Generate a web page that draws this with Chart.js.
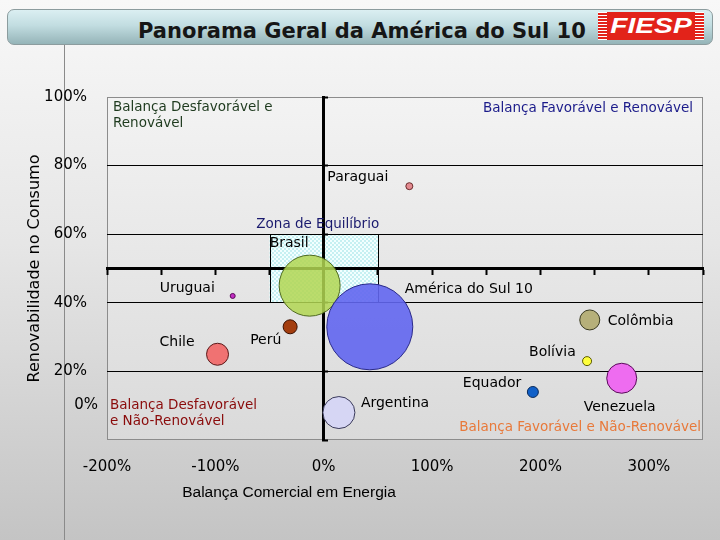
<!DOCTYPE html>
<html>
<head>
<meta charset="utf-8">
<script src="https://cdn.jsdelivr.net/npm/chart.js@4"></script>
<style>
  html, body { margin:0; padding:0; }
  body { width:720px; height:540px; overflow:hidden; position:relative;
         background: linear-gradient(to bottom, #f8f8f8 0%, #e6e6e6 45%, #c4c4c4 100%); }
  #vline { position:absolute; left:64px; top:45px; width:1px; height:495px; background:#8a8a8a; }
  #bar { position:absolute; left:7px; top:9px; width:704px; height:34px; border:1px solid #8c9c9e;
         border-radius:7px; background: linear-gradient(to bottom, #dbeff2 0%, #c2dde1 45%, #95b4b8 100%); }
  #title { position:absolute; left:138px; top:19px; font-family:"DejaVu Sans"; font-weight:bold; font-size:21px;
           line-height:24px; color:#161616; white-space:nowrap; }
  #logo { position:absolute; left:598px; top:12px; width:106px; height:28px; background:#e2231a; overflow:hidden; }
  #logo .s { position:absolute; top:0; width:9px; height:28px;
             background: repeating-linear-gradient(to bottom, #ffffff 0px, #ffffff 1px, transparent 1px, transparent 3px); }
  #logo .t { position:absolute; left:0; top:0; width:106px; height:28px; text-align:center; line-height:28px;
             font-family:"Liberation Sans"; font-weight:bold; font-style:italic; font-size:22px; color:#fff;
             transform:scaleX(1.28); }
  #c { position:absolute; left:0; top:0; }
</style>
</head>
<body>
<div id="vline"></div>
<div id="bar"></div>
<div id="title">Panorama Geral da América do Sul 10</div>
<div id="logo"><div class="s" style="left:0"></div><div class="s" style="right:0"></div><div class="t">FIESP</div></div>
<canvas id="c" width="720" height="540"></canvas>
<script>
// ---- data ----
const countries = ['Paraguai','Brasil','América do Sul 10','Uruguai','Chile','Perú','Argentina','Colômbia','Bolívia','Equador','Venezuela'];
const balancaComercial = [79, -13, 42.5, -84, -98, -31, 14, 245.5, 243, 193, 275];   // %
const renovabilidade  = [74, 45, 33, 42, 25, 33, 8, 35, 23, 14, 18];                 // %
const tamanho         = [3.5, 30.5, 43, 2.5, 11, 7, 16, 10, 4.5, 5.5, 15];
const xTickValues = [-200, -100, 0, 100, 200, 300];
const yTickValues = [0, 20, 40, 60, 80, 100];
const quadrantLabels = {
  desfRen: ['Balança Desfavorável e', 'Renovável'],
  favRen: 'Balança Favorável e Renovável',
  desfNao: ['Balança Desfavorável', 'e Não-Renovável'],
  favNao: 'Balança Favorável e Não-Renovável',
  zona: 'Zona de Equilíbrio'
};
const xTitle = 'Balança Comercial em Energia';
const yTitle = 'Renovabilidade no Consumo';

// ---- styles ----
const fills = ['#e38a90','rgba(178,214,82,0.85)','rgba(98,102,240,0.9)','#c22ec2','#f07272','#a33d0e',
               '#d6d6f4','#b6b07a','#ffff3c','#1060c8','#ee6cf0'];
const borders = ['#6a2a2a','#4f6a20','#2a2a8a','#5a0a5a','#5a1a1a','#3a1000','#3a3a5a','#3a3a20','#5a5a00','#0a2a5a','#5a0a5a'];
const labelOffsets = [[-82,-9],[-40,-42],[35,-37],[-73,-8],[-58,-12],[-40,14],[22,-9],[18,1],[-58,-9],[-70,-9],[-38,29]];

const points = countries.map((c,i)=>({x: balancaComercial[i], y: renovabilidade[i], r: tamanho[i]}));

function makePattern(ctx){
  const p = document.createElement('canvas'); p.width = 4; p.height = 4;
  const g = p.getContext('2d');
  g.fillStyle = '#f2ffff'; g.fillRect(0,0,4,4);
  g.fillStyle = '#c6f0f2'; g.fillRect(0,0,2,2); g.fillRect(2,2,2,2);
  return ctx.createPattern(p,'repeat');
}

const zeroFit = s => { s.width = s.isHorizontal() ? s.width : 0; s.height = s.isHorizontal() ? 0 : s.height;
                       s.paddingLeft = 0; s.paddingRight = 0; s.paddingTop = 0; s.paddingBottom = 0; };

const decor = {
  id: 'decor',
  beforeDraw(chart){
    const {ctx, chartArea: ca, scales} = chart;
    ctx.save();
    const gr = ctx.createLinearGradient(0, ca.top, 0, ca.bottom);
    gr.addColorStop(0, '#f3f3f3'); gr.addColorStop(1, '#dadada');
    ctx.fillStyle = gr;
    ctx.fillRect(ca.left, ca.top, ca.right-ca.left, ca.bottom-ca.top);
    // zona de equilibrio
    const x1 = scales.x.getPixelForValue(-50), x2 = scales.x.getPixelForValue(50);
    const y1 = scales.y.getPixelForValue(60), y2 = scales.y.getPixelForValue(40);
    ctx.fillStyle = makePattern(ctx);
    ctx.fillRect(x1, y1, x2-x1, y2-y1);
    ctx.strokeStyle = '#000'; ctx.lineWidth = 1;
    ctx.beginPath();
    ctx.moveTo(Math.round(x1)+0.5, y1); ctx.lineTo(Math.round(x1)+0.5, y2);
    ctx.moveTo(Math.round(x2)+0.5, y1); ctx.lineTo(Math.round(x2)+0.5, y2);
    ctx.stroke();
    ctx.strokeStyle = '#8c8c8c';
    ctx.strokeRect(ca.left+0.5, ca.top+0.5, ca.right-ca.left-1, ca.bottom-ca.top-1);
    ctx.restore();
  },
  afterDraw(chart){
    const {ctx, chartArea: ca, scales} = chart;
    ctx.save();
    ctx.textBaseline = 'middle';
    ctx.font = '13.5px "DejaVu Sans"';
    ctx.textAlign = 'left';
    ctx.fillStyle = '#1e3a1e';
    ctx.fillText(quadrantLabels.desfRen[0], ca.left+6, ca.top+10);
    ctx.fillText(quadrantLabels.desfRen[1], ca.left+6, ca.top+26);
    ctx.fillStyle = '#8a0b0b';
    ctx.fillText(quadrantLabels.desfNao[0], ca.left+3, ca.bottom-35);
    ctx.fillText(quadrantLabels.desfNao[1], ca.left+3, ca.bottom-19);
    ctx.textAlign = 'right';
    ctx.fillStyle = '#1b1b8a';
    ctx.fillText(quadrantLabels.favRen, ca.right-10, ca.top+11);
    ctx.fillStyle = '#e8793a';
    ctx.fillText(quadrantLabels.favNao, ca.right-2, ca.bottom-13);
    ctx.textAlign = 'center';
    ctx.fillStyle = '#1a1a6e';
    ctx.fillText(quadrantLabels.zona, scales.x.getPixelForValue(0)-6, scales.y.getPixelForValue(60)-10);
    // 0% tick label (offset as in the original slide)
    ctx.font = '15px "DejaVu Sans"';
    ctx.fillStyle = '#000';
    ctx.textAlign = 'right';
    ctx.fillText('0%', ca.left-9, scales.y.getPixelForValue(0)-35);
    // x title
    ctx.font = '15.5px "Liberation Sans"';
    ctx.textAlign = 'center';
    ctx.fillText(xTitle, ca.left+182, ca.bottom+53);
    // country labels
    ctx.font = '14px "DejaVu Sans"';
    ctx.textAlign = 'left';
    const meta = chart.getDatasetMeta(0);
    meta.data.forEach((el,i)=>{
      ctx.fillText(countries[i], el.x + labelOffsets[i][0], el.y + labelOffsets[i][1]);
    });
    ctx.restore();
  }
};

new Chart(document.getElementById('c'), {
  type: 'bubble',
  data: { datasets: [{
    data: points,
    backgroundColor: fills,
    borderColor: borders,
    borderWidth: 1,
    xAxisID: 'x', yAxisID: 'y'
  }]},
  options: {
    responsive: false,
    devicePixelRatio: 1,
    animation: false,
    layout: { autoPadding: false, padding: { top: 97, right: 17, left: 0, bottom: 0 } },
    plugins: { legend: { display: false }, tooltip: { enabled: false } },
    scales: {
      x: {
        type: 'linear', position: 'bottom', min: -200, max: 350,
        afterFit: s => { s.height = 100; s.paddingLeft = 0; s.paddingRight = 0; },
        afterBuildTicks: s => { s.ticks = xTickValues.map(v => ({value: v})); },
        grid: { display: false }, border: { display: false },
        ticks: { padding: 10, color: '#000', font: { family: 'DejaVu Sans', size: 15 }, callback: v => v + '%' }
      },
      y: {
        type: 'linear', position: 'left', min: 0, max: 100,
        afterFit: s => { s.width = 107; s.paddingTop = 0; s.paddingBottom = 0; },
        afterBuildTicks: s => { s.ticks = yTickValues.map(v => ({value: v})); },
        grid: { drawTicks: false, lineWidth: 1,
                color: c => (c.tick && (c.tick.value === 0 || c.tick.value === 100)) ? 'rgba(0,0,0,0)' : '#000' },
        border: { display: false },
        ticks: { padding: 20, color: '#000', font: { family: 'DejaVu Sans', size: 15 },
                 callback: v => v === 0 ? '' : v + '%' },
        title: { display: true, text: yTitle, color: '#000', font: { family: 'DejaVu Sans', size: 16 },
                 padding: { top: 25, bottom: 0 } }
      },
      x2: {
        type: 'linear', axis: 'x', position: { y: 50 }, min: -200, max: 350,
        afterFit: zeroFit,
        grid: { drawOnChartArea: false, drawTicks: true, tickLength: 5, tickWidth: 2, tickColor: '#000' },
        border: { display: true, width: 3, color: '#000' },
        ticks: { display: false, stepSize: 50 }
      },
      y2: {
        type: 'linear', axis: 'y', position: { x: 0 }, min: 0, max: 100,
        afterFit: zeroFit,
        grid: { drawOnChartArea: false, drawTicks: true, tickLength: -6, tickWidth: 2, tickColor: '#000' },
        border: { display: true, width: 3, color: '#000' },
        ticks: { display: false, stepSize: 20 }
      }
    }
  },
  plugins: [decor]
});
</script>
</body>
</html>
